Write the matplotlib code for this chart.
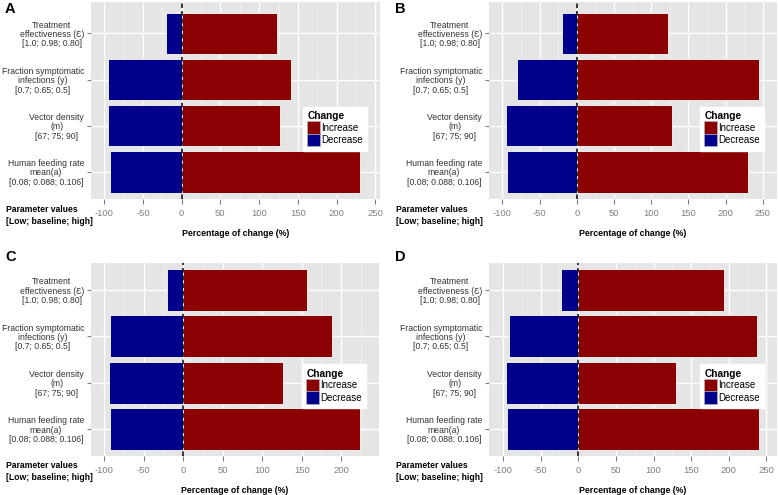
import matplotlib.pyplot as plt
from matplotlib.patches import Patch
from matplotlib.ticker import MultipleLocator
import numpy as np

plt.rcParams['font.family'] = ['Liberation Sans', 'DejaVu Sans']

# parameters, bottom to top
params = ["Human feeding rate\nmean(a)\n[0.08; 0.088; 0.106]",
          "Vector density\n(m)\n[67; 75; 90]",
          "Fraction symptomatic\ninfections (y)\n[0.7; 0.65; 0.5]",
          "Treatment\neffectiveness (\u0190)\n[1.0; 0.98; 0.80]"]

dec_A = [-93, -95, -95, -20]
inc_A = [230, 127, 141, 123]
dec_B = [-93.5, -95, -81, -20]
inc_B = [230, 128, 245, 123]
dec_C = [-93, -94.5, -93, -20.5]
inc_C = [224, 126, 188, 157]
dec_D = [-94, -96, -92, -22.5]
inc_D = [239.5, 130, 237, 194]

xlims = {"A": (-117, 256), "B": (-118, 269), "C": (-117, 248), "D": (-118.5, 264)}
xticks = {"A": [-100, -50, 0, 50, 100, 150, 200, 250],
          "B": [-100, -50, 0, 50, 100, 150, 200, 250],
          "C": [-100, -50, 0, 50, 100, 150, 200],
          "D": [-100, -50, 0, 50, 100, 150, 200, 250]}

W, H = 778, 495
fig = plt.figure(figsize=(W / 100, H / 100), dpi=100)

# (left, right, top, bottom) in pixels
boxes = {"A": (91, 380, 2, 199), "B": (489, 777, 2, 199),
         "C": (91, 379, 263, 456), "D": (489, 777, 263, 456)}
data = {"A": (dec_A, inc_A), "B": (dec_B, inc_B),
        "C": (dec_C, inc_C), "D": (dec_D, inc_D)}

red = "#8B0000"
blue = "#00008B"

for key in ["A", "B", "C", "D"]:
    l, r, t, b = boxes[key]
    ax = fig.add_axes([l / W, 1 - b / H, (r - l) / W, (b - t) / H])
    ax.set_facecolor("#E5E5E5")
    dec, inc = data[key]
    y = np.arange(1, len(params) + 1)
    ax.barh(y, inc, height=0.9, color=red, edgecolor="white", linewidth=0.6, zorder=3)
    ax.barh(y, dec, height=0.9, color=blue, edgecolor="white", linewidth=0.6, zorder=3)
    ax.axvline(0, color="black", linestyle=(0, (3, 2)), linewidth=1.1, zorder=4)
    ax.set_xlim(*xlims[key])
    if key in ("A", "B"):
        ax.set_ylim(0.41, 4.68)
    else:
        ax.set_ylim(0.42, 4.58)
    ax.set_xticks(xticks[key])
    ax.set_xticklabels([str(v) for v in xticks[key]])
    ax.xaxis.set_minor_locator(MultipleLocator(25))
    ax.set_yticks(y)
    ax.set_yticklabels(params, multialignment="center", linespacing=1.05)
    ax.grid(True, which="major", color="white", linewidth=1.0, zorder=0)
    ax.grid(True, which="minor", axis="x", color="#F2F2F2", linewidth=0.5, zorder=0)
    ax.set_axisbelow(True)
    for s in ax.spines.values():
        s.set_visible(False)
    ax.tick_params(axis="x", which="major", colors="#7F7F7F", labelsize=6.8, length=3.5, pad=3.5)
    ax.tick_params(axis="x", which="minor", length=0)
    ax.tick_params(axis="y", colors="#7F7F7F", labelcolor="#333333", labelsize=6.2, length=3, pad=2)
    ax.set_xlabel("Percentage of change (%)", fontsize=6.3, fontweight="bold", labelpad=8)

    handles = [Patch(facecolor=red, edgecolor="#BBBBBB", linewidth=0.4, label="Increase"),
               Patch(facecolor=blue, edgecolor="#BBBBBB", linewidth=0.4, label="Decrease")]
    top = 0.492 if key in ("A", "B") else 0.50
    leg = ax.legend(handles=handles, title="Change", loc="upper right",
                    bbox_to_anchor=(0.972, top), fontsize=7, title_fontsize=7.3,
                    frameon=True, fancybox=False, framealpha=1, edgecolor="white",
                    handlelength=1.25, handleheight=1.6, handletextpad=0.15,
                    labelspacing=0.0, borderpad=0.45, alignment="left")
    leg.get_title().set_fontweight("bold")
    leg.set_zorder(5)

    # panel letter and parameter-values note
    fx = l - 86 if key in ("A", "C") else l - 94
    fig.text((fx) / W, 1 - (t + 7) / H if key in ("A", "B") else 1 - (t - 6) / H,
             key, fontsize=10.5, fontweight="bold", ha="left", va="center")
    fig.text((fx + 1) / W, 1 - (b + 10) / H, "Parameter values",
             fontsize=6.2, fontweight="bold", ha="left", va="center")
    fig.text((fx + 1) / W, 1 - (b + 22) / H, "[Low; baseline; high]",
             fontsize=6.2, fontweight="bold", ha="left", va="center")

fig.savefig("out.png", dpi=100)
